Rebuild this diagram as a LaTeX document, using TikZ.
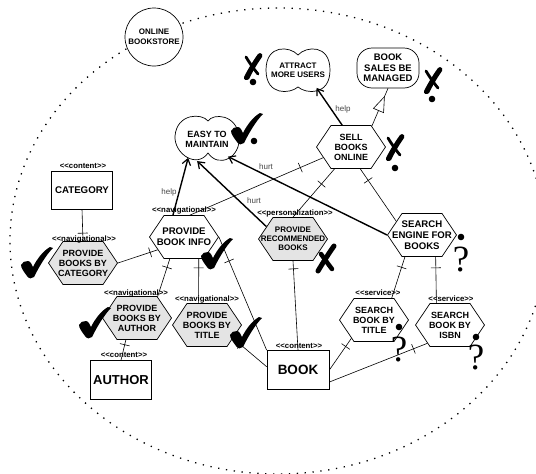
\documentclass[tikz,border=0pt]{standalone}
\usepackage{fontspec}
\setmainfont{Liberation Sans}
\newfontfamily\qfont{Liberation Serif}
\usetikzlibrary{shapes.symbols,shapes.geometric,arrows.meta,decorations.markings}

\definecolor{navgray}{RGB}{228,228,228}
\definecolor{lblgray}{RGB}{70,70,70}

\tikzset{
  conn/.style={line width=0.6pt},
  arr/.style={line width=1.4pt, -{Straight Barb[length=6pt,width=8.5pt,line width=1.2pt]}},
  tk/.style={postaction={decorate, decoration={markings,
      mark=at position #1 with {\draw[line width=0.6pt] (0pt,-5pt) -- (0pt,5pt);}}}},
  realize/.style={postaction={decorate, decoration={markings,
      mark=at position 32pt with {\draw[line width=0.6pt, fill=white]
        (0pt,0pt) -- (-15pt,5.5pt) -- (-15pt,-5.5pt) -- cycle;}}}},
  hexw/.style={shape=signal, signal to=east and west, signal pointer angle=112,
    draw, line width=0.7pt, fill=white, minimum width=69pt, minimum height=43pt, inner sep=0pt},
  hexg/.style={hexw, fill=navgray},
  htxt/.style={align=center, inner sep=0pt, font=\bfseries\fontsize{9}{10}\selectfont},
  content/.style={draw, line width=0.7pt, fill=white, minimum width=61pt, minimum height=38pt,
    inner sep=0pt, font=\bfseries\fontsize{9.7}{11}\selectfont},
  stereo/.style={inner sep=0pt, font=\bfseries\fontsize{7.8}{9}\selectfont},
  lbl/.style={inner sep=0pt, text=lblgray, font=\fontsize{8}{9}\selectfont},
  qmark/.style={inner sep=0pt, font=\qfont\fontsize{37}{40}\selectfont},
  boundary/.style={line width=1.3pt, dash pattern=on 1.3pt off 6.6pt},
  goal/.style={inner sep=0pt, align=center},
  checkmk/.pic={\fill (-16,3) .. controls (-15,0) and (-12,-1) .. (-9,-1)
      .. controls (-7,-1) and (-5,2) .. (-4,5)
      .. controls (0,-3) and (6,-11) .. (13,-15) -- (16,-14)
      .. controls (8,-6) and (1,7) .. (-3,15)
      .. controls (-5,17) and (-8,17) .. (-10,14)
      .. controls (-13,10) and (-16,6) .. (-16,3) -- cycle;},
  xmk/.pic={\fill (7,-13) .. controls (9,-13) and (10,-11) .. (9,-9)
        .. controls (4,-2) and (0,5) .. (-4,13)
        .. controls (-6,15) and (-10,14) .. (-9,11)
        .. controls (-5,3) and (0,-5) .. (5,-12) -- cycle;
      \draw[line width=2.8pt, line cap=round] (-7,-9) .. controls (-4,-4) and (0,2) .. (5,8);},
  xmkheavy/.pic={\draw[line width=5pt, line cap=round] (8,-12) .. controls (3,-5) and (-2,3) .. (-8,13);
      \draw[line width=4.5pt, line cap=round] (-5,-4) .. controls (-2,0) and (2,6) .. (6,11);},
}

\begin{document}
\begin{tikzpicture}[x=1pt,y=-1pt]
\useasboundingbox (0,0) rectangle (536,474);

% system boundary
\draw[boundary] (278,241) ellipse [x radius=268pt, y radius=233pt];
\node[circle, draw, line width=0.7pt, fill=white, minimum size=58pt, inner sep=0pt, align=center,
      font=\bfseries\fontsize{8}{10}\selectfont] (store) at (154,37) {ONLINE\\BOOKSTORE};

% soft goals
\node[ellipse, minimum width=64pt, minimum height=46pt, inner sep=0pt] (easy) at (207,139) {};
\draw[line width=0.7pt, shift={(easy.center)}]
  (1,-18) .. controls (-5,-26) and (-30,-26) .. (-32,-3)
  .. controls (-33,15) and (-10,30) .. (1,14)
  .. controls (12,30) and (34,18) .. (32,-2)
  .. controls (30,-25) and (6,-26) .. (1,-18) -- cycle;
\node[goal, font=\bfseries\fontsize{9}{10}\selectfont] (easyT) at (easy) {EASY TO\\MAINTAIN};

\node[ellipse, minimum width=65pt, minimum height=43pt, inner sep=0pt] (attract) at (298,70) {};
\draw[line width=0.7pt, shift={(attract.center)}]
  (0,-15) .. controls (-8,-24) and (-32,-26) .. (-32,0)
  .. controls (-32,26) and (-8,24) .. (0,17)
  .. controls (8,24) and (32,26) .. (32,0)
  .. controls (32,-26) and (8,-24) .. (0,-15) -- cycle;
\node[goal, font=\bfseries\fontsize{8}{9}\selectfont] (attractT) at (attract) {ATTRACT\\MORE USERS};

\node[draw, line width=0.7pt, rounded corners=15pt, minimum width=62pt, minimum height=40pt,
      inner sep=0pt, align=center, font=\bfseries\fontsize{9.5}{10.5}\selectfont]
      (sales) at (388,68) {BOOK\\SALES BE\\MANAGED};

% use cases
\node[hexw] (sell) at (351,147) {};
\node[htxt] (sellT) at (sell) {SELL\\BOOKS\\ONLINE};
\node[hexw] (info) at (184,237) {};
\node[htxt, font=\bfseries\fontsize{9.6}{11}\selectfont] (infoT) at (info) {PROVIDE\\BOOK INFO};
\node[hexg] (pcat) at (83,263) {};
\node[htxt] (pcatT) at (pcat) {PROVIDE\\BOOKS BY\\CATEGORY};
\node[hexg] (pauth) at (137,318) {};
\node[htxt] (pauthT) at (pauth) {PROVIDE\\BOOKS BY\\AUTHOR};
\node[hexg] (ptitle) at (207,325) {};
\node[htxt] (ptitleT) at (ptitle) {PROVIDE\\BOOKS BY\\TITLE};
\node[hexg] (rec) at (293,239) {};
\node[htxt, font=\bfseries\fontsize{8}{9}\selectfont] (recT) at (rec) {PROVIDE\\RECOMMENDED\\BOOKS};
\node[hexw] (engine) at (422,235) {};
\node[htxt, font=\bfseries\fontsize{9.6}{11}\selectfont] (engineT) at (engine) {SEARCH\\ENGINE FOR\\BOOKS};
\node[hexw] (sbt) at (374,320) {};
\node[htxt] (sbtT) at (sbt) {SEARCH\\BOOK BY\\TITLE};
\node[hexw] (sbi) at (450,325) {};
\node[htxt] (sbiT) at (sbi) {SEARCH\\BOOK BY\\ISBN};

% content classes
\node[content] (category) at (82,190) {CATEGORY};
\node[content, minimum height=39pt, font=\bfseries\fontsize{13}{15}\selectfont] (author) at (121,380) {AUTHOR};
\node[content, minimum width=62pt, minimum height=39pt, font=\bfseries\fontsize{13.5}{15}\selectfont] (book) at (298,370) {BOOK};

% stereotypes
\node[stereo] (categoryS) at (83,166) {<\kern0pt<content>\kern0pt>};
\node[stereo] (pcatS) at (84,239) {<\kern0pt<navigational>\kern0pt>};
\node[stereo] (infoS) at (184,210) {<\kern0pt<navigational>\kern0pt>};
\node[stereo] (pauthS) at (136,293) {<\kern0pt<navigational>\kern0pt>};
\node[stereo] (ptitleS) at (207,299) {<\kern0pt<navigational>\kern0pt>};
\node[stereo] (recS) at (295,213) {<\kern0pt<personalization>\kern0pt>};
\node[stereo] (sbtS) at (378,293) {<\kern0pt<service>\kern0pt>};
\node[stereo] (sbiS) at (451,299) {<\kern0pt<service>\kern0pt>};
\node[stereo] (authorS) at (124,355) {<\kern0pt<content>\kern0pt>};
\node[stereo] (bookS) at (299,346) {<\kern0pt<content>\kern0pt>};

% associations
\draw[conn, tk=8pt] (pcat.north) -- (category.south);
\draw[conn, tk=8pt] (info.206) -- (pcat.east);
\draw[conn, tk=9pt] (info.237) -- (pauth.46);
\draw[conn, tk=9pt] (info.304) -- (ptitle.111);
\draw[conn, tk=26pt] (info.east) -- (book.north west);
\draw[conn, tk=5pt] (pauth.243) -- (author.north);
\draw[conn, tk=10pt] (ptitle.333) -- (book.174);
\draw[conn, tk=8pt] (rec.south) -- (book.north);
\draw[conn, tk=10pt] (sbt.219) -- (book.east);
\draw[conn, tk=15pt] (sbi.219) -- (book.339);
\draw[conn, tk=11pt] (engine.232) -- (sbt.51);
\draw[conn, tk=11pt] (engine.302) -- (sbi.122);
\draw[conn, tk=14pt] (sell.293) -- (engine.152);
\draw[conn, tk=20pt] (sell.233) -- (rec.north);
\draw[conn, tk=25pt] (sell.201) -- (info.75);

% contributions
\draw[arr] (sell.112) -- (attract.316);
\draw[arr] (info.117) -- (easy.225);
\draw[arr] (rec.155) -- (easy.246);
\draw[arr] (engine.west) -- (easy.320);
\draw[conn, realize] (sell.45) -- (sales.south);

\node[lbl] (help1) at (343,109) {help};
\node[lbl] (help2) at (169,192) {help};
\node[lbl] (hurt1) at (266,167) {hurt};
\node[lbl] (hurt2) at (254,201) {hurt};

% evaluation marks
\pic at (247,128) {checkmk};
\fill (254,141) circle[radius=3.3pt];
\pic at (37,262) {checkmk};
\pic at (217,253) {checkmk};
\pic at (95,322) {checkmk};
\pic at (246,332) {checkmk};

\pic at (253,66) {xmk};
\fill (253,82) circle[radius=3.3pt];
\pic at (433,80) {xmk};
\fill (432,99) circle[radius=3.3pt];
\pic at (395,147) {xmk};
\fill (395,168) circle[radius=3.3pt];
\pic at (326,258) {xmkheavy};

\fill (461,237) circle[radius=3.3pt];
\node[qmark] (q1) at (461,260) {?};
\fill (399,327) circle[radius=3.3pt];
\node[qmark] (q2) at (399,350) {?};
\fill (476,337) circle[radius=3.3pt];
\node[qmark] (q3) at (476,358) {?};
\end{tikzpicture}
\end{document}
